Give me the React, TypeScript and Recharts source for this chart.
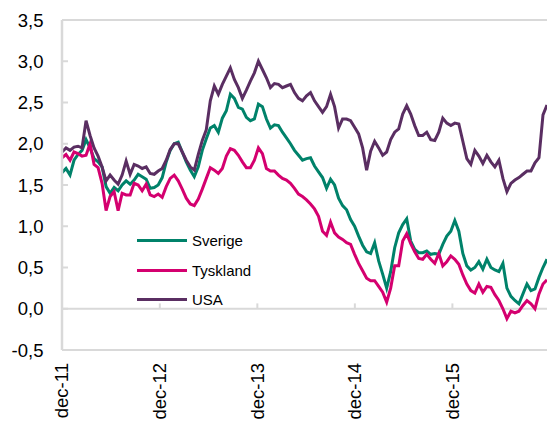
import React from 'react';
import { LineChart, Line, XAxis, YAxis, ReferenceLine } from 'recharts';

// Halvmånadsvisa observationer (15 dagar) från 1 dec 2011
const STEP_DAYS = 15;

const sverige = [
  1.65, 1.70, 1.62, 1.80, 1.87, 1.92, 2.05, 1.95, 1.82, 1.78,
  1.72, 1.48, 1.40, 1.47, 1.43, 1.50, 1.55, 1.51, 1.56, 1.63,
  1.60, 1.57, 1.46, 1.47, 1.50, 1.59, 1.78, 1.92, 2.00, 2.02,
  1.90, 1.78, 1.68, 1.60, 1.72, 1.92, 2.06, 2.19, 2.22, 2.14,
  2.31, 2.40, 2.60, 2.55, 2.44, 2.42, 2.32, 2.28, 2.30, 2.48,
  2.45, 2.30, 2.19, 2.23, 2.22, 2.14, 2.07, 2.00, 1.92, 1.86,
  1.80, 1.82, 1.83, 1.73, 1.66, 1.59, 1.46, 1.57, 1.50, 1.34,
  1.25, 1.20, 1.08, 1.00, 0.88, 0.77, 0.69, 0.67, 0.80, 0.58,
  0.42, 0.25, 0.45, 0.74, 0.92, 1.02, 1.09, 0.82, 0.72, 0.68,
  0.68, 0.70, 0.66, 0.67, 0.66, 0.78, 0.88, 0.94, 1.07, 0.94,
  0.67, 0.52, 0.47, 0.50, 0.57, 0.48, 0.60, 0.50, 0.47, 0.45,
  0.55, 0.25, 0.15, 0.10, 0.06, 0.18, 0.30, 0.22, 0.24, 0.38,
  0.50, 0.60,
];

const tyskland = [
  1.83, 1.87, 1.80, 1.90, 1.88, 1.85, 1.86, 2.00, 1.75, 1.71,
  1.52, 1.19, 1.36, 1.42, 1.19, 1.40, 1.38, 1.38, 1.52, 1.50,
  1.43, 1.51, 1.38, 1.36, 1.39, 1.35, 1.48, 1.58, 1.62, 1.55,
  1.45, 1.34, 1.27, 1.25, 1.33, 1.45, 1.58, 1.71, 1.68, 1.64,
  1.70, 1.85, 1.94, 1.92, 1.86, 1.78, 1.71, 1.71, 1.80, 1.95,
  1.88, 1.70, 1.67, 1.67, 1.62, 1.58, 1.56, 1.52, 1.46, 1.39,
  1.36, 1.32, 1.27, 1.21, 1.12, 0.94, 0.89, 1.05, 0.92, 0.87,
  0.84, 0.80, 0.78, 0.66, 0.55, 0.46, 0.37, 0.34, 0.34, 0.27,
  0.20, 0.08, 0.25, 0.52, 0.52, 0.82, 0.91, 0.79, 0.69, 0.61,
  0.60, 0.66, 0.60, 0.55, 0.67, 0.52, 0.57, 0.64, 0.60, 0.54,
  0.41, 0.30, 0.22, 0.19, 0.30, 0.20, 0.27, 0.26, 0.17, 0.10,
  0.00, -0.12, -0.03, -0.05, -0.03, 0.04, 0.10, 0.06, 0.00, 0.18,
  0.30, 0.35,
];

const usa = [
  1.90, 1.95, 1.92, 1.96, 1.97, 1.95, 2.28, 2.10, 1.95, 1.85,
  1.72, 1.55, 1.62, 1.56, 1.51, 1.62, 1.79, 1.63, 1.75, 1.73,
  1.70, 1.72, 1.64, 1.63, 1.67, 1.70, 1.80, 1.93, 2.00, 2.00,
  1.90, 1.80, 1.72, 1.68, 1.87, 2.04, 2.17, 2.52, 2.70, 2.60,
  2.72, 2.82, 2.92, 2.78, 2.68, 2.55, 2.65, 2.76, 2.86, 3.00,
  2.90, 2.80, 2.68, 2.73, 2.72, 2.68, 2.70, 2.72, 2.62, 2.55,
  2.52, 2.58, 2.62, 2.52, 2.45, 2.38, 2.45, 2.60, 2.45, 2.19,
  2.30, 2.30, 2.28, 2.20, 2.12, 1.95, 1.68, 1.91, 2.03, 1.95,
  1.86, 1.90, 2.05, 2.14, 2.18, 2.36, 2.46, 2.36, 2.22, 2.10,
  2.10, 2.14, 2.05, 2.04, 2.14, 2.31, 2.25, 2.22, 2.25, 2.24,
  2.03, 1.82, 1.75, 1.92, 1.85, 1.76, 1.86, 1.78, 1.72, 1.80,
  1.58, 1.42, 1.52, 1.56, 1.59, 1.63, 1.67, 1.67, 1.77, 1.83,
  2.35, 2.47,
];

// dagar sedan 1 dec 2011
const tickDays = [0, 366, 731, 1096, 1461];
const tickLabels = ['dec-11', 'dec-12', 'dec-13', 'dec-14', 'dec-15'];
const yTicks = [-0.5, 0, 0.5, 1, 1.5, 2, 2.5, 3, 3.5];

const series = [
  { key: 'Sverige', color: '#00826a' },
  { key: 'Tyskland', color: '#d4006f' },
  { key: 'USA', color: '#5a2e62' },
];

const data = usa.map((_, i) => ({
  day: i * STEP_DAYS,
  Sverige: sverige[i],
  Tyskland: tyskland[i],
  USA: usa[i],
}));

const FONT = "Arial, 'Liberation Sans', sans-serif";
const GRAY = '#d9d9d9';
const AXIS_FONT = 18.5;

const XTick = ({ x, y, payload }: any) => {
  const idx = tickDays.indexOf(payload.value);
  return (
    <g transform={`translate(${x},${y})`}>
      <text
        transform="rotate(-90)"
        x={-13}
        dy="0.35em"
        textAnchor="end"
        fontSize={AXIS_FONT}
        fontFamily={FONT}
        fill="#000"
      >
        {tickLabels[idx]}
      </text>
    </g>
  );
};

// legenden ligger inne i diagramytan, som i Excel
const LegendBox = () => (
  <div
    style={{
      position: 'absolute',
      left: 137,
      top: 226,
      fontFamily: FONT,
      fontSize: 15,
      color: '#000',
    }}
  >
    {series.map((s) => (
      <div key={s.key} style={{ display: 'flex', alignItems: 'center', height: 29.5 }}>
        <div style={{ width: 50, height: 3, background: s.color, marginRight: 5 }} />
        <span>{s.key}</span>
      </div>
    ))}
  </div>
);

export default function App() {
  return (
    <div style={{ position: 'absolute', left: 0, top: 0, width: 547, height: 423, background: '#fff' }}>
      <LineChart
        width={547}
        height={423}
        data={data}
        margin={{ top: 20, right: 0, bottom: 0, left: 0 }}
      >
        <XAxis
          dataKey="day"
          type="number"
          domain={[0, (usa.length - 1) * STEP_DAYS]}
          ticks={tickDays}
          tick={<XTick />}
          tickLine={false}
          tickSize={0}
          tickMargin={0}
          height={73}
          axisLine={{ stroke: GRAY, strokeWidth: 2 }}
          interval={0}
        />
        <YAxis
          type="number"
          domain={[-0.5, 3.5]}
          ticks={yTicks}
          width={62}
          tickSize={-6}
          tickMargin={24.5}
          tickLine={{ stroke: GRAY, strokeWidth: 2 }}
          axisLine={{ stroke: GRAY, strokeWidth: 2.5 }}
          tickFormatter={(v: number) => v.toFixed(1).replace('.', ',')}
          tick={{ fill: '#000', fontSize: AXIS_FONT, fontFamily: FONT }}
          interval={0}
        />
        <ReferenceLine y={3.5} stroke={GRAY} strokeWidth={2} />
        <ReferenceLine y={0} stroke={GRAY} strokeWidth={2} />
        {tickDays.slice(1).map((d) => (
          <ReferenceLine
            key={d}
            segment={[{ x: d, y: 0 }, { x: d, y: 0.065 }]}
            stroke={GRAY}
            strokeWidth={2}
          />
        ))}
        {series.map((s) => (
          <Line
            key={s.key}
            type="linear"
            dataKey={s.key}
            stroke={s.color}
            strokeWidth={3}
            dot={false}
            isAnimationActive={false}
          />
        ))}
      </LineChart>
      <LegendBox />
    </div>
  );
}
